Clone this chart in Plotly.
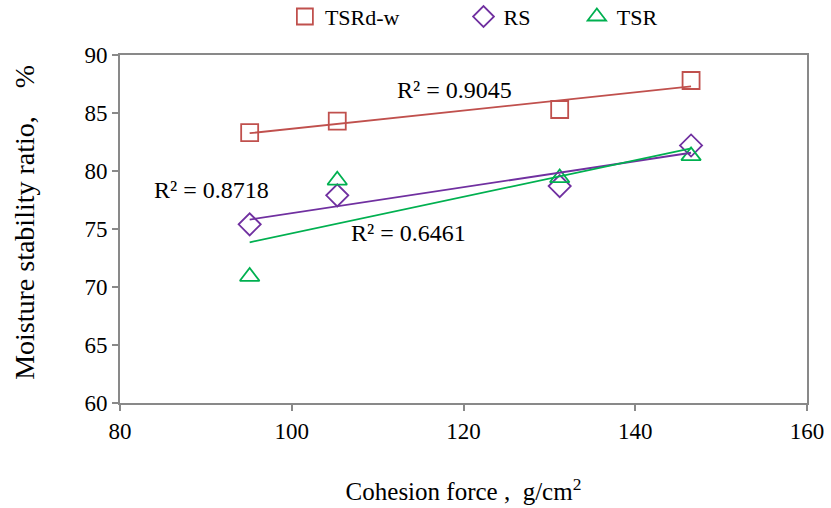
import numpy as np
import plotly.graph_objects as go

cohesion = [95.1, 105.3, 131.2, 146.5]
tsrdw = [83.3, 84.3, 85.3, 87.8]
rs = [75.4, 77.9, 78.7, 82.2]
tsr = [70.9, 79.2, 79.4, 81.3]

series = [
    ("TSRd-w", tsrdw, "#C0504D", "square-open"),
    ("RS", rs, "#7030A0", "diamond-open"),
    ("TSR", tsr, "#00B050", "triangle-up-open"),
]
r2_text = ["R² = 0.9045", "R² = 0.8718", "R² = 0.6461"]

FONT = "Times New Roman, Liberation Serif, serif"

fig = go.Figure()
x = np.array(cohesion)
legend_ids = ["legend", "legend2", "legend3"]
for (name, vals, color, sym), lid in zip(series, legend_ids):
    fig.add_trace(go.Scatter(x=cohesion, y=vals, mode="markers", name=name, legend=lid,
                             marker=dict(symbol=sym, size=17, color=color, line=dict(width=1.8, color=color))))
for name, vals, color, sym in series:
    k, b = np.polyfit(x, np.array(vals), 1)
    xs = [x.min(), x.max()]
    fig.add_trace(go.Scatter(x=xs, y=[k * v + b for v in xs], mode="lines", showlegend=False,
                             line=dict(color=color, width=1.8), hoverinfo="skip"))

ann_pos = [(118.9, 87.0), (90.7, 78.36), (113.65, 74.66)]
for t, (ax_, ay_) in zip(r2_text, ann_pos):
    fig.add_annotation(x=ax_, y=ay_, text=t, showarrow=False,
                       font=dict(family=FONT, size=24, color="black"))

# y-axis title as rotated annotation
fig.add_annotation(xref="paper", yref="paper", x=-0.14, y=0.52, xanchor="center", yanchor="middle",
                   text="Moisture stability ratio,\u00a0\u00a0\u00a0\u00a0%", textangle=-90,
                   showarrow=False, font=dict(family=FONT, size=28, color="black"))

axis_common = dict(showline=True, linecolor="#898989", linewidth=2, mirror=True,
                   ticks="outside", ticklen=6, tickcolor="#898989", tickwidth=1.5,
                   showgrid=False, zeroline=False,
                   tickfont=dict(family=FONT, size=23, color="black"))
fig.update_xaxes(range=[80, 160], dtick=20, **axis_common,
                 title=dict(text="Cohesion force ,  g/cm<sup>2</sup>", standoff=40,
                            font=dict(family=FONT, size=25, color="black")))
fig.update_yaxes(range=[60, 90], dtick=5, **axis_common)

leg_common = dict(orientation="h", yanchor="middle", y=1.11, xanchor="left",
                  bgcolor="rgba(0,0,0,0)", itemwidth=30,
                  font=dict(family=FONT, size=22, color="black"))
fig.update_layout(width=831, height=508,
                  margin=dict(l=120, r=24, t=55, b=105, autoexpand=False),
                  plot_bgcolor="white", paper_bgcolor="white",
                  legend=dict(x=0.24, **leg_common),
                  legend2=dict(x=0.50, **leg_common),
                  legend3=dict(x=0.665, **leg_common))
fig.write_html("out.html")
